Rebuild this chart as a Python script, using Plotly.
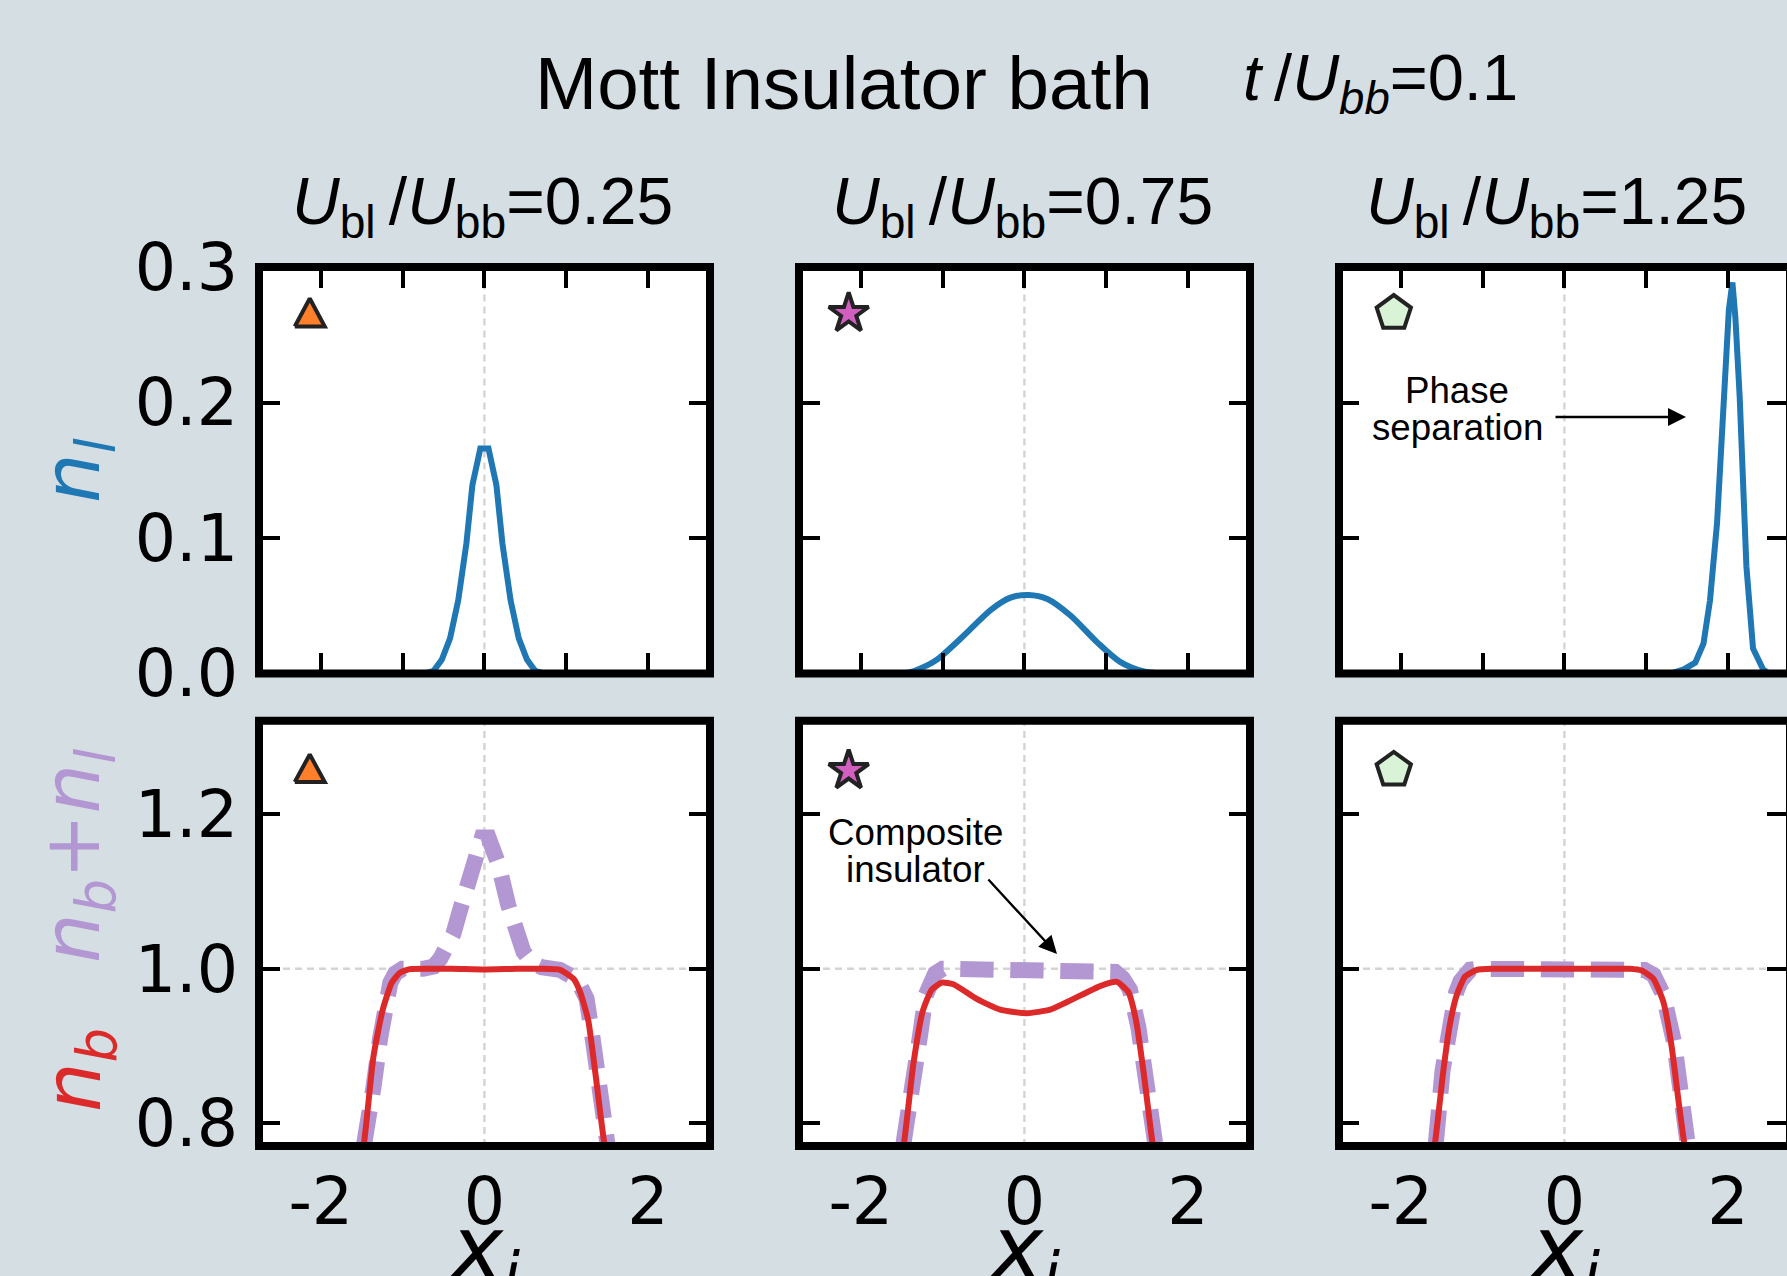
import math
import plotly.graph_objects as go

W, H = 1787, 1276
BG = "#d5dee3"
BLUE = "#1f77b4"
RED = "#dc2a2a"
PURPLE = "#b397d3"
GREY = "#d4d4d4"
SANS = "Liberation Sans"
DJ = "DejaVu Sans"

# ---- data ----
x_nl_1 = [-2.7, -0.8, -0.72, -0.62, -0.52, -0.42, -0.32, -0.22, -0.147, -0.05, 0.05, 0.147, 0.22, 0.32, 0.42, 0.52, 0.62, 0.72, 0.8, 2.7]
nl_1 = [0, 0, 0.0003, 0.002, 0.0103, 0.026, 0.054, 0.096, 0.139, 0.166, 0.166, 0.139, 0.096, 0.054, 0.026, 0.0103, 0.002, 0.0003, 0, 0]
x_nl_2 = [-2.7, -1.6, -1.4, -1.19, -1.06, -0.74, -0.41, -0.17, 0.05, 0.28, 0.56, 0.89, 1.17, 1.46, 1.7, 2.7]
nl_2 = [0, 0, 0.001, 0.006, 0.0106, 0.028, 0.047, 0.056, 0.058, 0.055, 0.043, 0.023, 0.0086, 0.0015, 0, 0]
x_nl_3 = [-2.7, 1.3, 1.459, 1.6, 1.70, 1.78, 1.866, 1.92, 1.97, 2.01, 2.054, 2.09, 2.143, 2.184, 2.225, 2.306, 2.43, 2.5, 2.7]
nl_3 = [0, 0, 0.003, 0.008, 0.022, 0.054, 0.111, 0.175, 0.226, 0.268, 0.2886, 0.263, 0.204, 0.14, 0.079, 0.0185, 0.003, 0, 0]

x_nb_1 = [-1.6, -1.47, -1.357, -1.243, -1.133, -1.03, -0.91, -0.7, -0.4, 0.0, 0.4, 0.7, 0.925, 1.09, 1.17, 1.27, 1.353, 1.463, 1.6]
nb_1 = [0.70, 0.776, 0.886, 0.947, 0.982, 0.995, 0.9995, 1.0, 1.0, 0.999, 1.0, 1.0, 0.9986, 0.987, 0.97, 0.933, 0.868, 0.776, 0.70]
x_tot_1 = [-1.6, -1.44, -1.357, -1.275, -1.21, -1.15, -1.09, -1.0, -0.75, -0.62, -0.54, -0.46, -0.38, -0.3, -0.216, -0.114, -0.03, 0.05, 0.1, 0.17, 0.29, 0.38, 0.477, 0.58, 0.70, 0.925, 1.09, 1.17, 1.25, 1.33, 1.434, 1.5, 1.6]
tot_1 = [0.69, 0.776, 0.846, 0.91, 0.961, 0.982, 0.994, 1.0, 1.0, 1.003, 1.013, 1.026, 1.045, 1.075, 1.11, 1.143, 1.17, 1.17, 1.158, 1.136, 1.083, 1.048, 1.022, 1.008, 1.002, 0.9985, 0.989, 0.978, 0.961, 0.905, 0.826, 0.776, 0.70]

x_nb_2 = [-1.6, -1.47, -1.357, -1.243, -1.133, -1.01, -0.868, -0.583, -0.297, 0.03, 0.314, 0.6, 0.925, 1.13, 1.27, 1.365, 1.455, 1.565, 1.7]
nb_2 = [0.70, 0.776, 0.877, 0.945, 0.973, 0.982, 0.98, 0.961, 0.947, 0.9425, 0.947, 0.961, 0.9776, 0.983, 0.97, 0.933, 0.868, 0.776, 0.70]
x_tot_2 = [-1.6, -1.459, -1.357, -1.275, -1.206, -1.15, -1.09, -1.0, -0.5, 0.0, 0.5, 0.95, 1.03, 1.11, 1.2, 1.29, 1.394, 1.475, 1.557, 1.6, 1.7]
tot_2 = [0.69, 0.776, 0.849, 0.914, 0.966, 0.984, 0.994, 1.0, 1.0, 1.0, 1.0, 1.0, 0.9995, 0.996, 0.988, 0.973, 0.924, 0.868, 0.807, 0.776, 0.70]

x_nb_3 = [-1.7, -1.58, -1.48, -1.40, -1.316, -1.214, -1.07, -0.87, -0.4, 0.0, 0.4, 0.8, 0.945, 1.088, 1.21, 1.31, 1.394, 1.463, 1.6]
nb_3 = [0.70, 0.776, 0.868, 0.928, 0.966, 0.990, 0.9986, 1.0, 1.0, 1.0, 1.0, 1.0, 0.9977, 0.987, 0.957, 0.90, 0.83, 0.776, 0.70]
x_tot_3 = [-1.7, -1.57, -1.49, -1.405, -1.325, -1.27, -1.22, -1.15, -1.07, -0.87, 0.0, 0.8, 0.98, 1.09, 1.21, 1.34, 1.41, 1.48, 1.6]
tot_3 = [0.69, 0.776, 0.868, 0.928, 0.969, 0.984, 0.995, 0.999, 1.0, 1.0, 1.0, 1.0, 0.9985, 0.992, 0.966, 0.905, 0.845, 0.776, 0.70]

top_series = [(x_nl_1, nl_1, "linear"), (x_nl_2, nl_2, "spline"), (x_nl_3, nl_3, "linear")]
bot_series = [(x_nb_1, nb_1, x_tot_1, tot_1), (x_nb_2, nb_2, x_tot_2, tot_2), (x_nb_3, nb_3, x_tot_3, tot_3)]
dash_starts = [-0.786, -0.786, -0.909]

x_ticks_top = [-2, -1, 0, 1, 2]
x_ticks_bot = [-2, 0, 2]
x_tick_text = ["-2", "0", "2"]
y_ticks_top = [0, 0.1, 0.2, 0.3]
y_text_top = ["0.0", "0.1", "0.2", "0.3"]
y_ticks_bot = [0.8, 1.0, 1.2]
y_text_bot = ["0.8", "1.0", "1.2"]
col_values = ["0.25", "0.75", "1.25"]

# ---- geometry (pixels) ----
LEFTS = [259, 799, 1339]
RIGHTS = [710, 1250, 1787]
ZEROS = [484.4, 1024.4, 1564.4]
UNIT = 81.8
UNIT_Y_BOT = 772.5
TOP_T, TOP_B = 267, 673.5
BOT_T, BOT_B = 720.8, 1146
Y_RANGE_TOP = [0, 0.3]
Y_RANGE_BOT = [0.7706, 1.321]
DASH_ON, DASH_OFF = 33.3, 16.7

fig = go.Figure()
layout = {}


def px(x):
    return x / W


def py(y):
    return 1 - y / H


def phased_dash(xs, ys, x_ref):
    """Dash pattern whose phase puts the start of a dash at x_ref on the path."""
    length = 0.0
    for i in range(1, len(xs)):
        x0, x1, y0, y1 = xs[i - 1], xs[i], ys[i - 1], ys[i]
        if x1 >= x_ref:
            f = (x_ref - x0) / (x1 - x0)
            length += f * math.hypot((x1 - x0) * UNIT, (y1 - y0) * UNIT_Y_BOT)
            break
        length += math.hypot((x1 - x0) * UNIT, (y1 - y0) * UNIT_Y_BOT)
    g = length % (DASH_ON + DASH_OFF)
    if g <= DASH_OFF:
        return f"0px,{g:.2f}px,{DASH_ON}px,{DASH_OFF - g:.2f}px"
    a = g - DASH_OFF
    return f"{a:.2f}px,{DASH_OFF}px,{DASH_ON - a:.2f}px,0px"


for c in range(3):
    xrange_ = [(LEFTS[c] - ZEROS[c]) / UNIT, (RIGHTS[c] - ZEROS[c]) / UNIT]
    dom = [px(LEFTS[c]), px(RIGHTS[c])]
    tl = 20 if c == 2 else 21
    n_top, n_bot = 2 * c + 1, 2 * c + 2
    s_top = "" if n_top == 1 else str(n_top)
    s_bot = str(n_bot)
    layout["xaxis" + s_top] = dict(domain=dom, range=xrange_, anchor="y" + s_top, showgrid=False, zeroline=False,
                                   tickmode="array", tickvals=x_ticks_top, showticklabels=False, ticks="inside",
                                   ticklen=21, tickwidth=4, tickcolor="black", mirror="allticks", showline=False,
                                   automargin=False)
    layout["yaxis" + s_top] = dict(domain=[py(TOP_B), py(TOP_T)], range=Y_RANGE_TOP, anchor="x" + s_top,
                                   showgrid=False, zeroline=False, tickmode="array", tickvals=y_ticks_top,
                                   ticktext=y_text_top, showticklabels=c == 0, ticks="inside", ticklen=tl,
                                   tickwidth=4, tickcolor="black", mirror="allticks", showline=False, automargin=False,
                                   tickfont=dict(family=DJ, size=65, color="black"), ticklabelstandoff=20)
    layout["xaxis" + s_bot] = dict(domain=dom, range=xrange_, anchor="y" + s_bot, showgrid=False, zeroline=False,
                                   tickmode="array", tickvals=x_ticks_bot, ticktext=x_tick_text, ticks="",
                                   showline=False, tickfont=dict(family=DJ, size=65, color="black"),
                                   ticklabelstandoff=12, automargin=False)
    layout["yaxis" + s_bot] = dict(domain=[py(BOT_B), py(BOT_T)], range=Y_RANGE_BOT, anchor="x" + s_bot,
                                   showgrid=False, zeroline=False, tickmode="array", tickvals=y_ticks_bot,
                                   ticktext=y_text_bot, showticklabels=c == 0, ticks="inside", ticklen=tl,
                                   tickwidth=4, tickcolor="black", mirror="allticks", showline=False, automargin=False,
                                   tickfont=dict(family=DJ, size=65, color="black"), ticklabelstandoff=20)

    xa_t, ya_t = "x" + s_top, "y" + s_top
    xa_b, ya_b = "x" + s_bot, "y" + s_bot
    fig.add_trace(go.Scatter(x=top_series[c][0], y=top_series[c][1], mode="lines", xaxis=xa_t, yaxis=ya_t,
                             line=dict(color=BLUE, width=6, shape=top_series[c][2], smoothing=0.8), showlegend=False))
    xb, yb, xt, yt = bot_series[c]
    fig.add_trace(go.Scatter(x=xt, y=yt, mode="lines", xaxis=xa_b, yaxis=ya_b,
                             line=dict(color=PURPLE, width=16, dash=phased_dash(xt, yt, dash_starts[c])),
                             showlegend=False))
    fig.add_trace(go.Scatter(x=xb, y=yb, mode="lines", xaxis=xa_b, yaxis=ya_b,
                             line=dict(color=RED, width=6, shape="spline", smoothing=0.5), showlegend=False))

# panel symbols
tri_x = [-2.135 - 15 / UNIT, -2.135, -2.135 + 15 / UNIT, -2.135 - 15 / UNIT]
for xa, ya, apex, base in [("x", "y", 0.2768, 0.2561), ("x2", "y2", 1.2774, 1.2418)]:
    fig.add_trace(go.Scatter(x=tri_x, y=[base, apex, base, base], mode="lines", fill="toself", fillcolor="#ff7f2a",
                             xaxis=xa, yaxis=ya, line=dict(color="#222222", width=4), showlegend=False))
for xa, ya, yv in [("x3", "y3", 0.2657), ("x4", "y4", 1.2566)]:
    fig.add_trace(go.Scatter(x=[-2.148], y=[yv], mode="markers", xaxis=xa, yaxis=ya, showlegend=False,
                             marker=dict(symbol="star", size=30, color="#d15fbf", line=dict(color="#222222", width=4))))
for xa, ya, yv in [("x5", "y5", 0.266), ("x6", "y6", 1.2575)]:
    fig.add_trace(go.Scatter(x=[-2.086], y=[yv], mode="markers", xaxis=xa, yaxis=ya, showlegend=False,
                             marker=dict(symbol="pentagon", size=36, color="#d8f3d6", line=dict(color="#222222", width=4))))

shapes = []
for c in range(3):
    n_top, n_bot = 2 * c + 1, 2 * c + 2
    s_top = "" if n_top == 1 else str(n_top)
    s_bot = str(n_bot)
    for s in (s_top, s_bot):
        shapes.append(dict(type="line", xref="x" + s, yref="y" + s + " domain", x0=0, x1=0, y0=0, y1=1, layer="below",
                           line=dict(color=GREY, width=2.4, dash="7px,5px")))
    shapes.append(dict(type="line", xref="x" + s_bot + " domain", yref="y" + s_bot, x0=0, x1=1, y0=1, y1=1,
                       layer="below", line=dict(color=GREY, width=2.4, dash="7px,5px")))
    right = 1790 if c == 2 else RIGHTS[c]
    for t, b in [(TOP_T, TOP_B), (BOT_T, BOT_B)]:
        shapes.append(dict(type="rect", xref="paper", yref="paper", x0=px(LEFTS[c]), x1=px(right), y0=py(b), y1=py(t),
                           layer="above", line=dict(color="black", width=8), fillcolor="rgba(0,0,0,0)"))

ann = []


def text(x, center_y, s, size, family=SANS, color="black", anchor="center", angle=0):
    ann.append(dict(xref="paper", yref="paper", x=px(x), y=py(center_y), text=s, showarrow=False,
                    xanchor=anchor, yanchor="middle", textangle=angle, align="center",
                    font=dict(family=family, size=size, color=color)))


text(533, 83, "Mott Insulator bath", 74.6, anchor="left")
text(1241, 82, "<i>t</i>\u2009/<i>U</i><sub><i>bb</i></sub>=0.1", 65, anchor="left")
for c, v in enumerate(col_values):
    text([290, 830, 1364][c], 206, f"<i>U</i><sub>bl</sub>\u2009/<i>U</i><sub>bb</sub>={v}", 66, anchor="left")

text(1457, 390, "Phase", 36.7)
text(1457, 427, "separation", 36.7)
text(915, 832, "Composite", 36.7)
text(915, 869, "insulator", 36.7)

ann.append(dict(xref="paper", yref="paper", axref="pixel", ayref="pixel", x=px(1686), y=py(417), ax=-132, ay=0,
                text="", showarrow=True, arrowhead=2, arrowsize=1.5, arrowwidth=2.4, arrowcolor="black"))
ann.append(dict(xref="paper", yref="paper", axref="pixel", ayref="pixel", x=px(1057), y=py(954), ax=-70, ay=-76,
                text="", showarrow=True, arrowhead=2, arrowsize=1.5, arrowwidth=2.4, arrowcolor="black"))

# axis-side labels
text(78, 471, "<i>n</i><sub><i>l</i></sub>", 78, family=DJ, color=BLUE, angle=-90)
text(78, 856, "<i>n</i><sub><i>b</i></sub>+<i>n</i><sub><i>l</i></sub>", 78, family=DJ, color=PURPLE, angle=-90)
text(78, 1070, "<i>n</i><sub><i>b</i></sub>", 78, family=DJ, color=RED, angle=-90)
for c in range(3):
    text(ZEROS[c], 1253, "<i>x</i><sub><i>i</i></sub>", 88, family=DJ)

fig.update_layout(width=W, height=H, autosize=False, margin=dict(l=0, r=0, t=0, b=0), paper_bgcolor=BG,
                  plot_bgcolor="white", shapes=shapes, annotations=ann, showlegend=False, **layout)
fig.write_html("out.html", config=dict(displayModeBar=False), default_width=f"{W}px", default_height=f"{H}px",
               post_script="document.body.style.margin='0';document.body.style.overflow='hidden';"
                           f"document.body.style.background='{BG}';")
